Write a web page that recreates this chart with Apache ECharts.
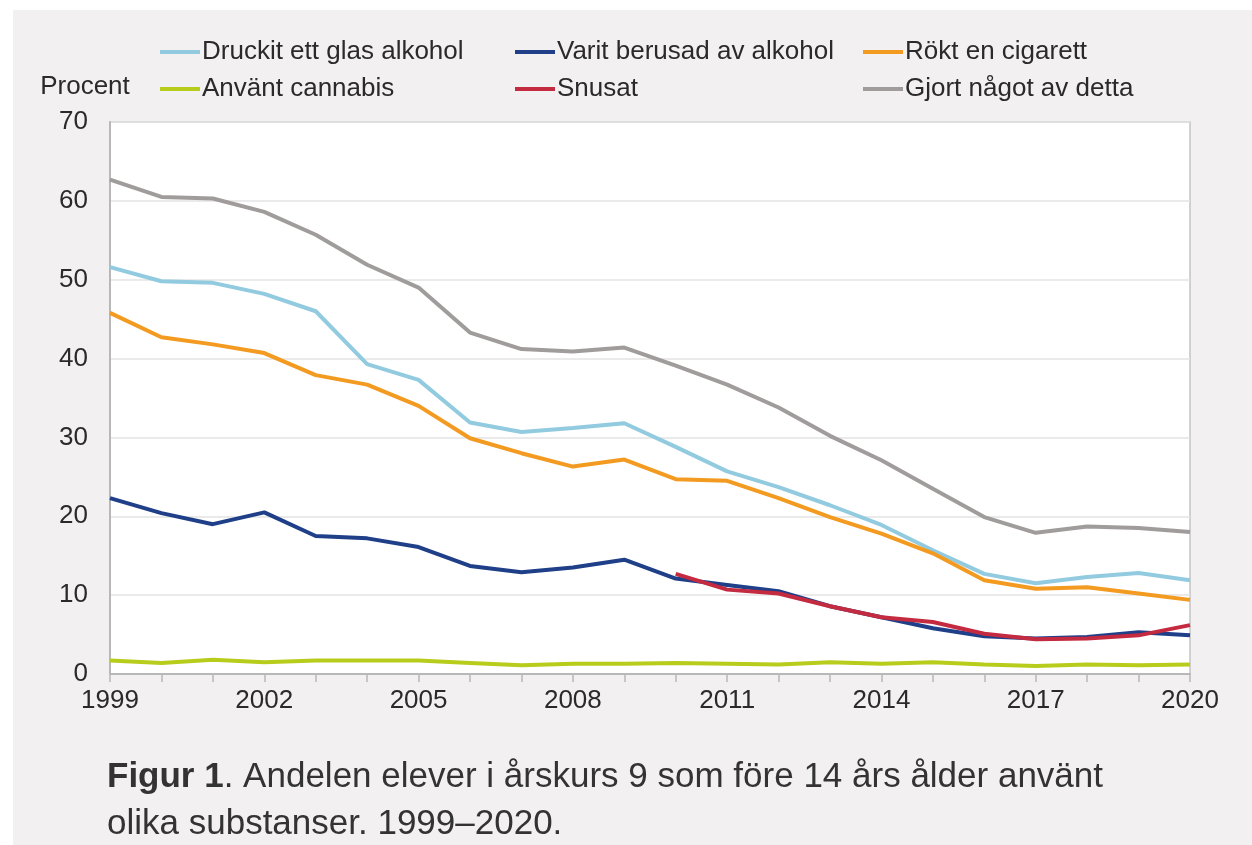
<!DOCTYPE html>
<html>
<head>
<meta charset="utf-8">
<script src="https://cdn.jsdelivr.net/npm/echarts@6/dist/echarts.min.js"></script>
<style>
  html, body { margin: 0; padding: 0; background: #ffffff; }
  #panel { position: absolute; left: 13px; top: 10px; right: 0; bottom: 0; background: #f2f0f1; }
  #chart { position: absolute; left: 0; top: 0; width: 1252px; height: 845px; }
</style>
</head>
<body>
<div id="panel"></div>
<div id="chart"></div>
<script>
const years = ["1999","2000","2001","2002","2003","2004","2005","2006","2007","2008","2009",
  "2010","2011","2012","2013","2014","2015","2016","2017","2018","2019","2020"];

const druckit = [51.6, 49.8, 49.6, 48.2, 46.0, 39.3, 37.3, 31.9, 30.7, 31.2, 31.8,
  28.8, 25.7, 23.7, 21.4, 18.9, 15.7, 12.7, 11.5, 12.3, 12.8, 11.9];
const berusad = [22.3, 20.4, 19.0, 20.5, 17.5, 17.2, 16.1, 13.7, 12.9, 13.5, 14.5,
  12.1, 11.3, 10.5, 8.6, 7.2, 5.8, 4.8, 4.5, 4.7, 5.3, 4.9];
const rokt = [45.8, 42.7, 41.8, 40.7, 37.9, 36.7, 34.0, 29.9, 28.0, 26.3, 27.2,
  24.7, 24.5, 22.3, 19.9, 17.8, 15.3, 11.9, 10.8, 11.0, 10.2, 9.4];
const cannabis = [1.7, 1.4, 1.8, 1.5, 1.7, 1.7, 1.7, 1.4, 1.1, 1.3, 1.3,
  1.4, 1.3, 1.2, 1.5, 1.3, 1.5, 1.2, 1.0, 1.2, 1.1, 1.2];
const snusat = [null, null, null, null, null, null, null, null, null, null, null,
  12.7, 10.7, 10.2, 8.6, 7.2, 6.6, 5.1, 4.4, 4.5, 4.9, 6.2];
const gjort = [62.7, 60.5, 60.3, 58.6, 55.7, 51.9, 49.0, 43.3, 41.2, 40.9, 41.4,
  39.1, 36.7, 33.8, 30.2, 27.1, 23.5, 19.9, 17.9, 18.7, 18.5, 18.0];

const yTicks = { min: 0, max: 70, interval: 10 };

const myChart = echarts.init(document.getElementById("chart"));

const textColor = "#2a2a2a";
const font = "'Liberation Sans', Arial, sans-serif";

function legendCol(left, names) {
  return {
    orient: "vertical",
    left: left,
    top: 33,
    data: names,
    icon: "rect",
    itemWidth: 40,
    itemHeight: 4,
    itemGap: 9,
    textStyle: { color: textColor, fontSize: 26, fontFamily: font, lineHeight: 28, padding: [0, 0, 0, -3] }
  };
}

function line(name, data, color) {
  return {
    name: name,
    type: "line",
    data: data,
    symbol: "none",
    connectNulls: false,
    lineStyle: { color: color, width: 4 },
    itemStyle: { color: color }
  };
}

const option = {
  animation: false,
  backgroundColor: "transparent",
  textStyle: { fontFamily: font },
  title: {
    left: 102,
    top: 749,
    text: "{b|Figur 1}. Andelen elever i årskurs 9 som före 14 års ålder använt\nolika substanser. 1999–2020.",
    textStyle: {
      color: "#333333",
      fontSize: 35,
      fontWeight: "normal",
      fontFamily: font,
      lineHeight: 47,
      rich: {
        b: { fontSize: 35, fontWeight: "bold", color: "#333333", fontFamily: font, lineHeight: 47 }
      }
    }
  },
  legend: [
    legendCol(155, ["Druckit ett glas alkohol", "Använt cannabis"]),
    legendCol(510, ["Varit berusad av alkohol", "Snusat"]),
    legendCol(858, ["Rökt en cigarett", "Gjort något av detta"])
  ],
  grid: {
    left: 110,
    right: 62,
    top: 122,
    bottom: 171,
    show: true,
    backgroundColor: "#ffffff",
    borderColor: "#c4c4c4",
    borderWidth: 1.5
  },
  xAxis: {
    type: "category",
    data: years,
    boundaryGap: false,
    axisLine: { lineStyle: { color: "#b8b8b8", width: 2 } },
    axisTick: { show: true, interval: 0, length: 8, lineStyle: { color: "#b8b8b8", width: 1.5 } },
    axisLabel: { interval: 2, color: textColor, fontSize: 26, fontFamily: font, margin: 14 },
    splitLine: { show: false }
  },
  yAxis: {
    type: "value",
    min: yTicks.min,
    max: yTicks.max,
    interval: yTicks.interval,
    name: "Procent",
    nameLocation: "end",
    nameGap: 22,
    nameTextStyle: { color: textColor, fontSize: 26, fontFamily: font, padding: [0, 50, 0, 0] },
    axisLine: { show: true, lineStyle: { color: "#b8b8b8", width: 2 } },
    axisTick: { show: false },
    axisLabel: { color: textColor, fontSize: 26, fontFamily: font, margin: 22 },
    splitLine: { lineStyle: { color: "#e3e3e3", width: 1.5 } }
  },
  series: [
    line("Druckit ett glas alkohol", druckit, "#92cbe0"),
    line("Varit berusad av alkohol", berusad, "#1f3f88"),
    line("Rökt en cigarett", rokt, "#f39a20"),
    line("Använt cannabis", cannabis, "#b8cc1c"),
    line("Snusat", snusat, "#c42a40"),
    line("Gjort något av detta", gjort, "#a09c9c")
  ]
};

myChart.setOption(option);
window.addEventListener("resize", () => myChart.resize(), false);
</script>
</body>
</html>
